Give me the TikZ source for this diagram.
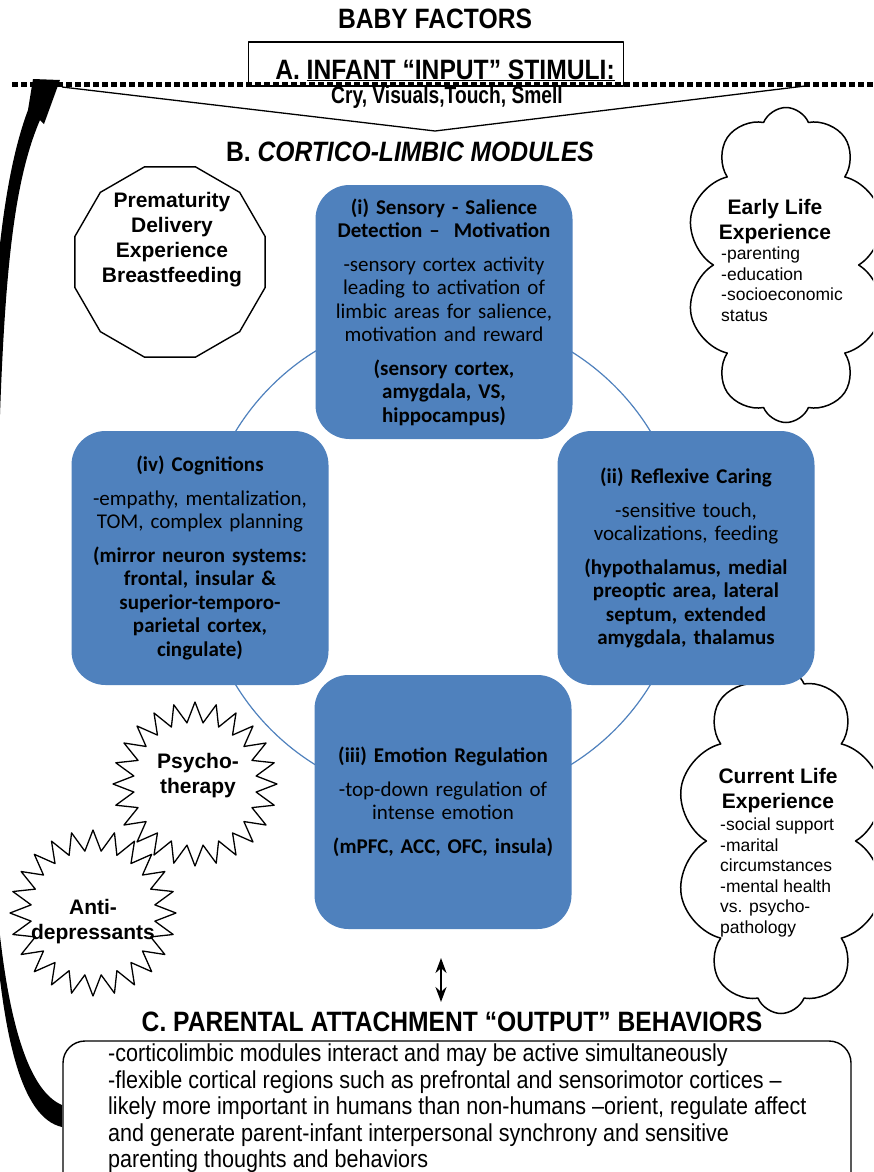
\documentclass[tikz,border=0pt]{standalone}
\usepackage{fontspec}
\setmainfont{Liberation Sans}
\newfontfamily\narrowfont[FakeStretch=0.88]{Liberation Sans}
\newfontfamily\slimfont[FakeStretch=0.8]{Liberation Sans}
\newfontfamily\calfont{Carlito}
\usetikzlibrary{shapes.geometric,shapes.symbols,arrows.meta,positioning}

\definecolor{modblue}{HTML}{4F81BD}

\tikzset{
  module/.style={fill=modblue, rounded corners=34pt, minimum width=257pt, minimum height=254pt,
    text width=250pt, align=center, inner sep=0pt, font=\calfont\fontsize{21}{23.5}\selectfont},
  heading/.style={font=\narrowfont\bfseries\fontsize{28}{30}\selectfont, inner sep=0pt},
  spiky/.style={star, star points=24, star point ratio=1.33, draw, line width=1.3pt},
  cloudy/.style={cloud, cloud puffs=10, cloud puff arc=135, draw, line width=1.5pt},
  factor/.style={font=\bfseries\fontsize{21}{25}\selectfont, align=center, inner sep=0pt},
  listtext/.style={font=\fontsize{17.5}{20.5}\selectfont, align=left, inner sep=0pt}
}

\begin{document}
\begin{tikzpicture}[x=1pt, y=-1pt, line join=round]
\clip (0,0) rectangle (873,1172);
\fill[white] (0,0) rectangle (873,1172);

% A. infant input
\node[heading] (baby) at (435,19) {BABY FACTORS};
\node[draw, fill=white, line width=1.3pt, minimum width=375pt, minimum height=44pt, inner sep=0pt] (inA) at (436,64) {};
\node[heading, anchor=base] (inAtext) at (445,79) {A. \underline{INFANT “INPUT” STIMULI:}};
\draw[line width=5pt, dash pattern=on 6pt off 3pt] (12,84) -- (873,84);
\draw[line width=1.3pt] (62,87) -- (435,131) -- (805,86);
\node[font=\slimfont\bfseries\fontsize{24}{26}\selectfont, inner sep=0pt] (cry) at (447,97) {Cry, Visuals,Touch, Smell};

% B. modules
\node[heading] (cortico) at (410,152) {B. \textit{CORTICO-LIMBIC MODULES}};

\draw[modblue, line width=1.2pt] (443,558) circle (243);

% influences
\node[regular polygon, regular polygon sides=12, draw, line width=1.4pt, minimum size=197pt, inner sep=0pt] (prem) at (170,262) {};
\node[factor] (premtext) at (172,240) {Prematurity\\Delivery\\Experience\\Breastfeeding};

\node[cloudy, minimum width=200pt, minimum height=315pt] (early) at (786,265) {};
\node[factor] (earlyT) at (775,222) {Early Life\\Experience};
\node[listtext, anchor=north west] (earlyL) at (721,247) {-parenting\\-education\\-socioeconomic\\status};

\node[cloudy, minimum width=210pt, minimum height=345pt] (current) at (781,841) {};
\node[factor] (curT) at (778,791) {Current Life\\Experience};
\node[listtext, anchor=north west] (curL) at (720,818) {-social support\\-marital\\circumstances\\-mental health\\vs. psycho-\\pathology};

\node[module] (sens) at (444,312) {\textbf{(i) Sensory - Salience\\Detection –\ \ Motivation}\\[10pt]
  -sensory cortex activity\\leading to activation of\\limbic areas for salience,\\motivation and reward\\[10pt]
  \textbf{(sensory cortex,\\amygdala, VS,\\hippocampus)}};
\node[module] (cogn) at (200,558) {\textbf{(iv) Cognitions}\\[10pt]
  -empathy, mentalization,\\TOM, complex planning\\[10pt]
  \textbf{(mirror neuron systems:\\frontal, insular \&\\superior-temporo-\\parietal cortex,\\cingulate)}};
\node[module] (refl) at (686,558) {\textbf{(ii) Reflexive Caring}\\[10pt]
  -sensitive touch,\\vocalizations, feeding\\[10pt]
  \textbf{(hypothalamus, medial\\preoptic area, lateral\\septum, extended\\amygdala, thalamus}};
\node[module] (emot) at (443,802) {\textbf{(iii) Emotion Regulation}\\[10pt]
  -top-down regulation of\\intense emotion\\[10pt]
  \textbf{(mPFC, ACC, OFC, insula)}};

\node[spiky, minimum size=164pt] (psyStar) at (195,784) {};
\node[factor] (psyText) at (198,776) {Psycho-\\therapy};
\node[spiky, minimum size=166pt] (antiStar) at (93,913) {};
\node[factor] (antiText) at (93,922) {Anti-\\depressants};

% C. output
\coordinate (dTop) at (441,958);
\coordinate (dBot) at (441,1002);
\draw[line width=2.2pt, {Stealth[length=15pt, width=11pt]}-{Stealth[length=15pt, width=11pt]}] (dTop) -- (dBot);

\node[heading] (parental) at (452,1022) {C. PARENTAL ATTACHMENT “OUTPUT” BEHAVIORS};
\draw[line width=1.4pt, rounded corners=22pt] (63,1190) -- (63,1041) -- (851,1041) -- (851,1190);
\node[anchor=north west, align=left, inner sep=0pt, font=\narrowfont\fontsize{24.5}{26.5}\selectfont] (outtext) at (108,1044)
  {-corticolimbic modules interact and may be active simultaneously\\
   -flexible cortical regions such as prefrontal and sensorimotor cortices –\\
   likely more important in humans than non-humans –orient, regulate affect\\
   and generate parent-infant interpersonal synchrony and sensitive\\
   parenting thoughts and behaviors};

% feedback arrow
\fill (62,1127) .. controls (22,1118) and (0,1040) .. (-8,880) -- (-14,560)
  .. controls (-12,330) and (-2,190) .. (28,110) -- (33,79) -- (60,80) -- (44,124) -- (40,120)
  .. controls (10,190) and (2,300) .. (-3,520) -- (-5,880)
  .. controls (4,1010) and (26,1090) .. (62,1105) -- cycle;
\end{tikzpicture}
\end{document}
